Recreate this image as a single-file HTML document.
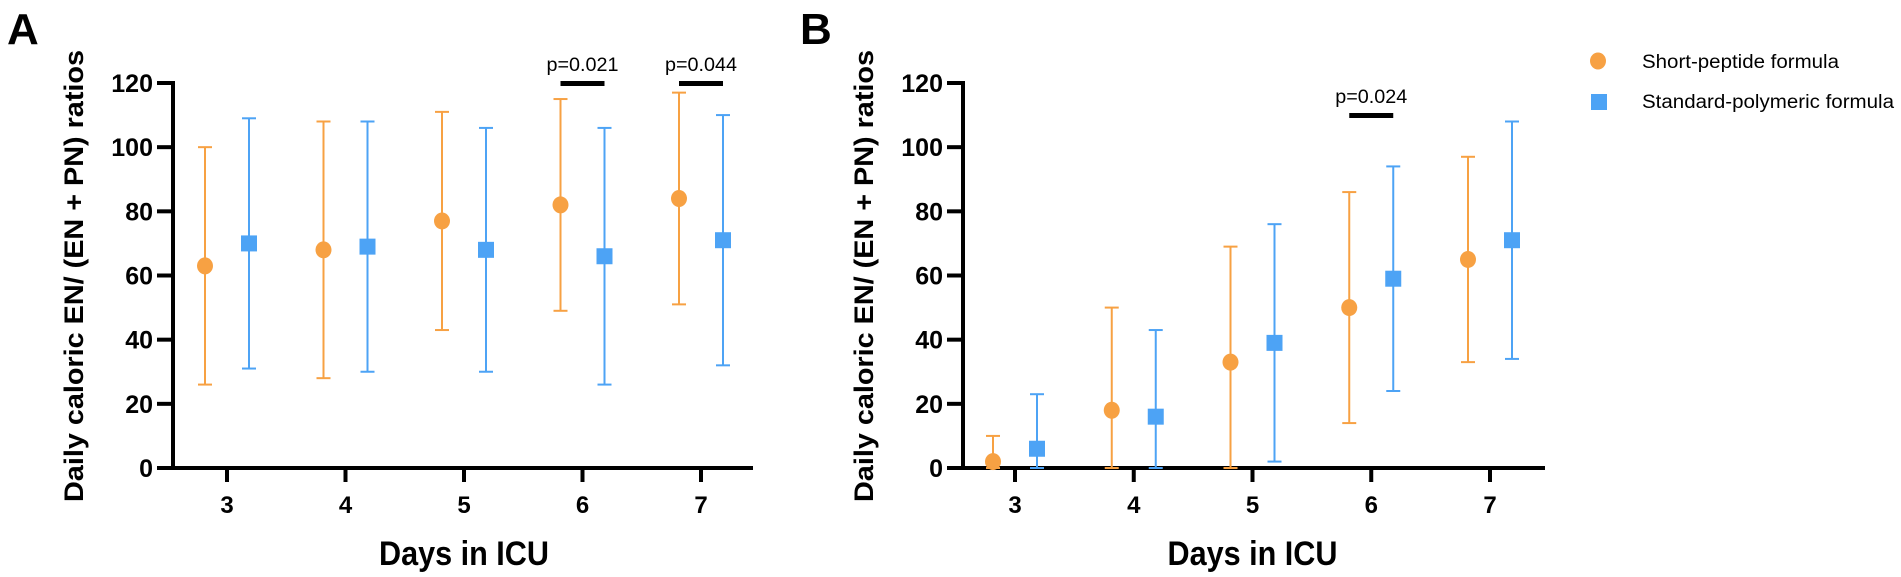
<!DOCTYPE html>
<html><head><meta charset="utf-8"><style>
html,body{margin:0;padding:0;background:#fff;}
svg{display:block;font-family:"Liberation Sans",Arial,sans-serif;}
</style></head><body>
<svg id="chart" width="1901" height="577" viewBox="0 0 1901 577" xmlns="http://www.w3.org/2000/svg"></svg>
<script>
const days = [3,4,5,6,7];
const yTicks = [0,20,40,60,80,100,120];
const aOrangeMean = [63,68,77,82,84];
const aOrangeLow = [26,28,43,49,51];
const aOrangeHigh = [100,108,111,115,117];
const aBlueMean = [70,69,68,66,71];
const aBlueLow = [31,30,30,26,32];
const aBlueHigh = [109,108,106,106,110];
const bOrangeMean = [2,18,33,50,65];
const bOrangeLow = [0,0,0,14,33];
const bOrangeHigh = [10,50,69,86,97];
const bBlueMean = [6,16,39,59,71];
const bBlueLow = [0,0,2,24,34];
const bBlueHigh = [23,43,76,94,108];
const aSig = [{day:6,label:"p=0.021"},{day:7,label:"p=0.044"}];
const bSig = [{day:6,label:"p=0.024"}];

const NS="http://www.w3.org/2000/svg";
const svg=document.getElementById('chart');
const OR="#F7A143", BL="#4DA3F5";
function el(tag,attrs,parent){const e=document.createElementNS(NS,tag);for(const k in attrs)e.setAttribute(k,attrs[k]);(parent||svg).appendChild(e);return e;}
function txt(s,attrs,parent){const t=el('text',attrs,parent);t.textContent=s;return t;}

function panel(cfg){
  const g=el('g',{});
  
  
  const y0=468, yTop=83;
  const ys=v=>y0-(v/120)*(y0-yTop);
  const xs=d=>cfg.x3+(d-3)*cfg.step;
  const lt=txt(cfg.letter,{x:cfg.letterX,y:44,'font-size':44,'font-weight':'bold'},g);
  
  
  const ya=el('line',{x1:cfg.ax,y1:yTop-2,x2:cfg.ax,y2:y0+2,stroke:'#000','stroke-width':4},g);
  
  
  const xa=el('line',{x1:cfg.ax-2,y1:y0,x2:cfg.axEnd,y2:y0,stroke:'#000','stroke-width':4},g);
  
  
  yTicks.forEach(v=>{
    el('line',{x1:cfg.ax-16,y1:ys(v),x2:cfg.ax,y2:ys(v),stroke:'#000','stroke-width':4},g);
    const t=txt(String(v),{x:cfg.ax-20,y:ys(v)+9,'font-size':25,'font-weight':'bold','text-anchor':'end'},g);
    
    
  });
  days.forEach(d=>{
    el('line',{x1:xs(d),y1:y0,x2:xs(d),y2:y0+14,stroke:'#000','stroke-width':4},g);
    const t=txt(String(d),{x:xs(d),y:513,'font-size':24,'font-weight':'bold','text-anchor':'middle'},g);
    
    
  });
  const xt=txt('Days in ICU',{x:xs(5),y:565,'font-size':34,'font-weight':'bold','text-anchor':'middle',textLength:170,lengthAdjust:'spacingAndGlyphs'},g);
  
  
  const yt=txt('Daily caloric EN/ (EN + PN) ratios',{x:0,y:0,'font-size':27,'font-weight':'bold','text-anchor':'middle',textLength:452,lengthAdjust:'spacingAndGlyphs',transform:`translate(${cfg.ax-90},276) rotate(-90)`},g);
  
  
  function series(mean,low,high,off,color,shape,nm){
    days.forEach((d,i)=>{
      const x=xs(d)+off;
      const e=el('g',{},g);
      
      
      el('line',{x1:x,y1:ys(low[i]),x2:x,y2:ys(high[i]),stroke:color,'stroke-width':2},e);
      el('line',{x1:x-7,y1:ys(low[i]),x2:x+7,y2:ys(low[i]),stroke:color,'stroke-width':2},e);
      el('line',{x1:x-7,y1:ys(high[i]),x2:x+7,y2:ys(high[i]),stroke:color,'stroke-width':2},e);
      let m;
      if(shape==='c') m=el('ellipse',{cx:x,cy:ys(mean[i]),rx:8,ry:8.5,fill:color},g);
      else m=el('rect',{x:x-8,y:ys(mean[i])-8,width:16,height:16,fill:color},g);
      
      
    });
  }
  series(cfg.om,cfg.ol,cfg.oh,-22,OR,'c','short-peptide');
  series(cfg.bm,cfg.bl,cfg.bh,22,BL,'s','standard-polymeric');
  cfg.sig.forEach(s=>{
    const cx=xs(s.day);
    const b=el('rect',{x:cx-22,y:cfg.sigY,width:44,height:5,fill:'#000'},g);
    
    
    const t=txt(s.label,{x:cx,y:cfg.sigY-10,'font-size':19,'text-anchor':'middle',textLength:72,lengthAdjust:'spacingAndGlyphs'},g);
    
    
  });
}
panel({name:'panel-a',letter:'A',letterX:7,ax:173,axEnd:753,x3:227,step:118.5,om:aOrangeMean,ol:aOrangeLow,oh:aOrangeHigh,bm:aBlueMean,bl:aBlueLow,bh:aBlueHigh,sig:aSig,sigY:81});
panel({name:'panel-b',letter:'B',letterX:800,ax:963,axEnd:1545,x3:1015,step:118.75,om:bOrangeMean,ol:bOrangeLow,oh:bOrangeHigh,bm:bBlueMean,bl:bBlueLow,bh:bBlueHigh,sig:bSig,sigY:113});

const lg=el('g',{});


const l1=el('g',{},lg);


el('ellipse',{cx:1598,cy:61,rx:8,ry:8.5,fill:OR},l1);
txt('Short-peptide formula',{x:1642,y:68,'font-size':19,textLength:197,lengthAdjust:'spacingAndGlyphs'},l1);
const l2=el('g',{},lg);


el('rect',{x:1591,y:94,width:16,height:16,fill:BL},l2);
txt('Standard-polymeric formula',{x:1642,y:108,'font-size':19,textLength:252,lengthAdjust:'spacingAndGlyphs'},l2);
</script>
</body></html>
